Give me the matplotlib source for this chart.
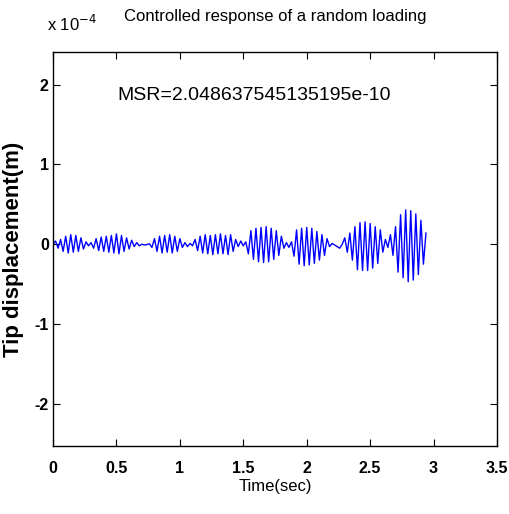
import matplotlib
matplotlib.use("Agg")
import matplotlib.pyplot as plt
import numpy as np

# peak values of the tip displacement (units of 1e-4 m), one every 0.02 s
dt = 0.02
peaks = [
    0, 0.04, -0.05, 0.06,
    -0.09, 0.10, -0.11, 0.12, -0.10, 0.11, -0.09, 0.08, -0.06,
    0.03, -0.02, 0.02,
    -0.05, 0.07, -0.08, 0.09, -0.09, 0.10, -0.10, 0.11, -0.11, 0.13, -0.12, 0.11, -0.09, 0.08, -0.06, 0.05,
    -0.03, 0.02, -0.02,
    0.0, -0.01, -0.005, 0.005,
    -0.04, 0.07, -0.09, 0.10, -0.11, 0.11, -0.10, 0.12, -0.11, 0.10, -0.09, 0.07,
    -0.04, 0.02, -0.03, 0.01, -0.02,
    0.06, -0.08, 0.10, -0.11, 0.12, -0.12, 0.11, -0.13, 0.12, -0.12, 0.13, -0.12, 0.11, -0.13, 0.12, -0.09, 0.06,
    -0.03, 0.04, -0.02, 0.03,
    -0.12, 0.17, -0.19, 0.20, -0.22, 0.21, -0.23, 0.22, -0.22, 0.20, -0.19, 0.17, -0.14, 0.10,
    -0.05, 0.02, -0.04, 0.03,
    -0.15, 0.18, -0.25, 0.20, -0.27, 0.21, -0.26, 0.20, -0.24, 0.16, -0.20, 0.12, -0.14, 0.07,
    -0.03, 0.01, -0.01, -0.03, -0.05, 0.0,
    0.08, -0.10, 0.14,
    -0.20, 0.22, -0.32, 0.27, -0.33, 0.28, -0.33, 0.26, -0.30, 0.22, -0.24, 0.18,
    -0.10, 0.06, -0.04,
    0.12, -0.14, 0.22, -0.35, 0.37, -0.42, 0.43, -0.47, 0.42, -0.45, 0.38, -0.38, 0.30, -0.25,
    0.14,
]
t = np.arange(len(peaks)) * dt
y = np.array(peaks) * 1e-4

xticks = [0, 0.5, 1, 1.5, 2, 2.5, 3, 3.5]
xticklabels = ["0", "0.5", "1", "1.5", "2", "2.5", "3", "3.5"]
yticks = [-2e-4, -1e-4, 0, 1e-4, 2e-4]
yticklabels = ["-2", "-1", "0", "1", "2"]

fam = ["Liberation Sans Narrow", "Liberation Sans", "DejaVu Sans"]

fig = plt.figure(figsize=(5.09, 5.14), dpi=100)
ax = fig.add_axes([53 / 509, 1 - 446 / 514, 444 / 509, 394 / 514])
ax.plot(t, y, color="#0000ff", linewidth=1.0)
ax.set_xlim(0, 3.5)
ax.set_ylim(-2.53e-4, 2.41e-4)
ax.set_xticks(xticks)
ax.set_xticklabels(xticklabels, family=fam, fontweight="bold", fontsize=11.5)
ax.set_yticks(yticks)
ax.set_yticklabels(yticklabels, family=fam, fontweight="bold", fontsize=11.5)
ax.tick_params(direction="in", length=5, width=0.8, top=True, right=True)
ax.tick_params(axis="x", pad=11)
ax.tick_params(axis="y", pad=3)
for s in ax.spines.values():
    s.set_linewidth(1.0)

fig.text(275 / 509, 1 - 17 / 514, "Controlled response of a random loading",
         family=fam, fontsize=12, ha="center", va="center")
ax.set_xlabel("Time(sec)", family=fam, fontsize=12)
ax.xaxis.set_label_coords(0.5, -(479 - 446) / 394)
ax.set_ylabel("Tip displacement(m)", family=fam, fontweight="bold", fontsize=16)
ax.yaxis.set_label_coords(-(53 - 24) / 444, 0.5)
ax.text(0.51, 1.87e-4, "MSR=2.048637545135195e-10", family=fam, fontsize=14,
        va="center", ha="left")
fig.text(47 / 509, 1 - 24 / 514, r"x 10$^{-4}$", family=fam, fontsize=12,
         va="center", ha="left")

fig.savefig("out.png", dpi=100)
